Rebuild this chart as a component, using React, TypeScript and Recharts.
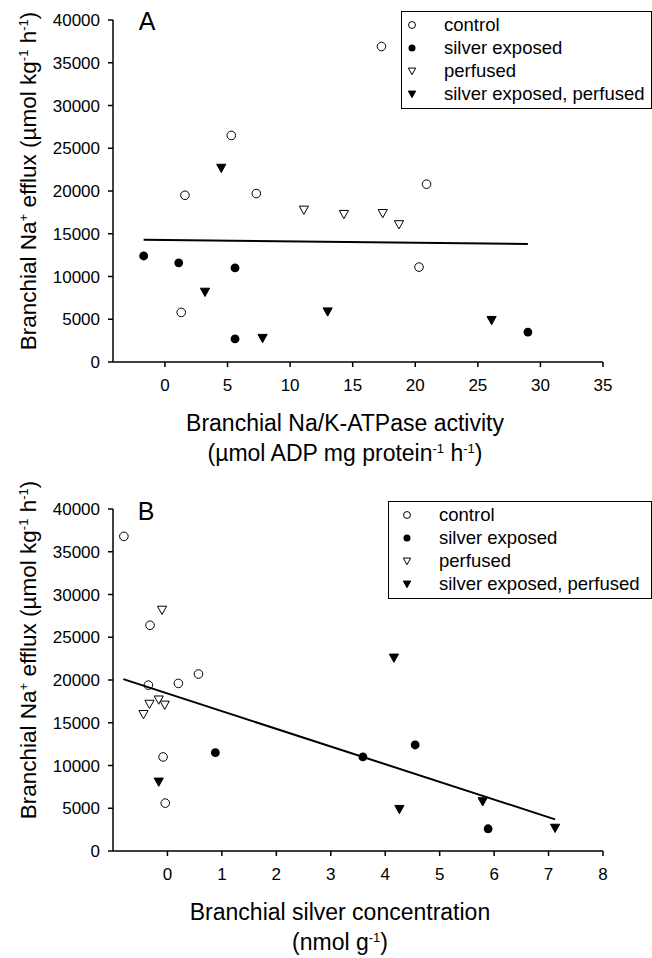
import React from "react";
import { Legend, Scatter, ScatterChart, XAxis, YAxis } from "recharts";

const FONT = "'Liberation Sans', Arial, Helvetica, sans-serif";

const seriesNames = ["control", "silver exposed", "perfused", "silver exposed, perfused"];

// panel A: Na/K-ATPase activity vs Na+ efflux
const controlAtpase = [5.3, 1.6, 7.3, 1.3, 20.9, 17.3, 20.3];
const controlEffluxA = [26500, 19500, 19700, 5800, 20800, 36900, 11100];
const silverAtpase = [-1.7, 1.1, 5.6, 5.6, 29.0];
const silverEffluxA = [12400, 11600, 11000, 2700, 3500];
const perfusedAtpase = [11.1, 14.3, 17.4, 18.7];
const perfusedEffluxA = [17800, 17300, 17400, 16100];
const silverPerfAtpase = [4.5, 3.2, 13.0, 7.8, 26.1];
const silverPerfEffluxA = [22700, 8200, 5900, 2800, 4900];
const fitAtpase = [-1.7, 29.0];
const fitEffluxA = [14300, 13800];

// panel B: branchial silver vs Na+ efflux
const controlSilver = [-0.8, -0.32, -0.35, 0.2, 0.57, -0.08, -0.04];
const controlEffluxB = [36800, 26400, 19400, 19600, 20700, 11000, 5600];
const silverSilver = [0.88, 3.59, 4.55, 5.89];
const silverEffluxB = [11500, 11000, 12400, 2600];
const perfusedSilver = [-0.1, -0.44, -0.33, -0.16, -0.05];
const perfusedEffluxB = [28200, 16000, 17200, 17700, 17100];
const silverPerfSilver = [-0.16, 4.16, 4.26, 5.79, 7.12];
const silverPerfEffluxB = [8100, 22600, 4900, 5800, 2700];
const fitSilver = [-0.81, 7.12];
const fitEffluxB = [20100, 3700];

const effluxTicks = [0, 5000, 10000, 15000, 20000, 25000, 30000, 35000, 40000];
const atpaseTicks = [0, 5, 10, 15, 20, 25, 30, 35];
const silverTicks = [0, 1, 2, 3, 4, 5, 6, 7, 8];

const pts = (xs: number[], ys: number[]) => xs.map((x, i) => ({ x, y: ys[i] }));

function Marker({ cx, cy, kind, s = 1 }: { cx: number; cy: number; kind: number; s?: number }) {
  if (kind === 0) return <circle cx={cx} cy={cy} r={4.3 * s} fill="#fff" stroke="#000" strokeWidth={1} />;
  if (kind === 1) return <circle cx={cx} cy={cy} r={4.4 * s} fill="#000" />;
  const h = 4.6 * s;
  const p = `${cx - h},${cy - h * 0.8} ${cx + h},${cy - h * 0.8} ${cx},${cy + h}`;
  return <polygon points={p} fill={kind === 3 ? "#000" : "#fff"} stroke="#000" strokeWidth={1} />;
}

function LegendBox({ payload, boxWidth, markerX, textX }: any) {
  const items = (payload || [])
    .filter((p: any) => seriesNames.includes(p.value))
    .sort((a: any, b: any) => seriesNames.indexOf(a.value) - seriesNames.indexOf(b.value));
  return (
    <div
      style={{
        width: boxWidth,
        border: "1.5px solid #000",
        background: "#fff",
        padding: "1px 0 3px 0",
        fontFamily: FONT,
        fontSize: 18.5,
        color: "#000",
        boxSizing: "border-box",
      }}
    >
      {items.map((p: any) => (
        <div key={p.value} style={{ height: 23, lineHeight: "23px", position: "relative" }}>
          <svg width={16} height={23} style={{ position: "absolute", left: markerX - 8, top: 0 }}>
            <Marker cx={8} cy={12} kind={seriesNames.indexOf(p.value)} s={0.8} />
          </svg>
          <span style={{ position: "absolute", left: textX, whiteSpace: "nowrap" }}>{p.value}</span>
        </div>
      ))}
    </div>
  );
}

const tickStyle = { fontSize: 17, fill: "#000", fontFamily: FONT };
const axisLine = { stroke: "#000", strokeWidth: 1.5 };

function Panel({
  height,
  top,
  series,
  fit,
  xDomain,
  xTicks,
  legendPos,
}: {
  height: number;
  top: number;
  series: { x: number; y: number }[][];
  fit: { x: number; y: number }[];
  xDomain: [number, number];
  xTicks: number[];
  legendPos: { left: number; top: number; markerX: number; textX: number };
}) {
  const boxWidth = 652 - legendPos.left;
  return (
    <ScatterChart width={652} height={height} margin={{ top, right: 49, left: 0, bottom: 0 }}>
      <XAxis
        type="number"
        dataKey="x"
        domain={xDomain}
        ticks={xTicks}
        allowDataOverflow
        height={height - top - 342}
        tick={tickStyle}
        tickSize={5}
        tickMargin={12}
        axisLine={axisLine}
        tickLine={axisLine}
      />
      <YAxis
        type="number"
        dataKey="y"
        domain={[0, 40000]}
        ticks={effluxTicks}
        width={113}
        tick={tickStyle}
        tickSize={5}
        tickMargin={8}
        axisLine={axisLine}
        tickLine={axisLine}
      />
      {series.map((d, k) => (
        <Scatter
          key={seriesNames[k]}
          name={seriesNames[k]}
          data={d}
          isAnimationActive={false}
          shape={(p: any) => <Marker cx={p.cx} cy={p.cy} kind={k} />}
        />
      ))}
      <Scatter
        data={fit}
        legendType="none"
        isAnimationActive={false}
        line={{ stroke: "#000", strokeWidth: 2 }}
        shape={() => <g />}
      />
      <Legend
        layout="horizontal"
        align="center"
        verticalAlign="middle"
        wrapperStyle={{ left: legendPos.left, top: legendPos.top, width: boxWidth, height: "auto" }}
        content={(props: any) => (
          <LegendBox {...props} boxWidth={boxWidth} markerX={legendPos.markerX} textX={legendPos.textX} />
        )}
      />
    </ScatterChart>
  );
}

const sup = { fontSize: 13, verticalAlign: "0.6em", lineHeight: 0 } as const;

function YTitle({ cy }: { cy: number }) {
  return (
    <div
      style={{
        position: "absolute",
        left: 29,
        top: cy,
        transform: "translate(-50%, -50%) rotate(-90deg)",
        whiteSpace: "nowrap",
        fontSize: 22.5,
        lineHeight: "26px",
      }}
    >
      Branchial Na<span style={sup}>+</span> efflux (µmol kg<span style={sup}>-1</span> h<span style={sup}>-1</span>)
    </div>
  );
}

const xTitle = {
  position: "absolute",
  transform: "translateX(-50%)",
  fontSize: 23,
  lineHeight: "30px",
  textAlign: "center",
  whiteSpace: "nowrap",
} as const;

export default function App() {
  return (
    <div
      style={{
        position: "absolute",
        left: 0,
        top: 0,
        width: 652,
        height: 958,
        background: "#fff",
        fontFamily: FONT,
        color: "#000",
        overflow: "hidden",
      }}
    >
      <div style={{ position: "absolute", left: 0, top: 0 }}>
        <Panel
          height={470}
          top={20}
          series={[
            pts(controlAtpase, controlEffluxA),
            pts(silverAtpase, silverEffluxA),
            pts(perfusedAtpase, perfusedEffluxA),
            pts(silverPerfAtpase, silverPerfEffluxA),
          ]}
          fit={pts(fitAtpase, fitEffluxA)}
          xDomain={[-4.15, 35]}
          xTicks={atpaseTicks}
          legendPos={{ left: 401, top: 11, markerX: 10, textX: 42 }}
        />
      </div>
      <div style={{ position: "absolute", left: 0, top: 470 }}>
        <Panel
          height={488}
          top={39}
          series={[
            pts(controlSilver, controlEffluxB),
            pts(silverSilver, silverEffluxB),
            pts(perfusedSilver, perfusedEffluxB),
            pts(silverPerfSilver, silverPerfEffluxB),
          ]}
          fit={pts(fitSilver, fitEffluxB)}
          xDomain={[-1, 8]}
          xTicks={silverTicks}
          legendPos={{ left: 388, top: 31, markerX: 18, textX: 50 }}
        />
      </div>

      <div style={{ position: "absolute", left: 147, top: 9, transform: "translateX(-50%)", fontSize: 25, lineHeight: "25px" }}>A</div>
      <div style={{ position: "absolute", left: 146, top: 499, transform: "translateX(-50%)", fontSize: 25, lineHeight: "25px" }}>B</div>

      <YTitle cy={181} />
      <YTitle cy={650} />

      <div style={{ ...xTitle, left: 345, top: 408 }}>
        Branchial Na/K-ATPase activity
        <br />
        (µmol ADP mg protein<span style={sup}>-1</span> h<span style={sup}>-1</span>)
      </div>
      <div style={{ ...xTitle, left: 340, top: 897 }}>
        Branchial silver concentration
        <br />
        (nmol g<span style={sup}>-1</span>)
      </div>
    </div>
  );
}
